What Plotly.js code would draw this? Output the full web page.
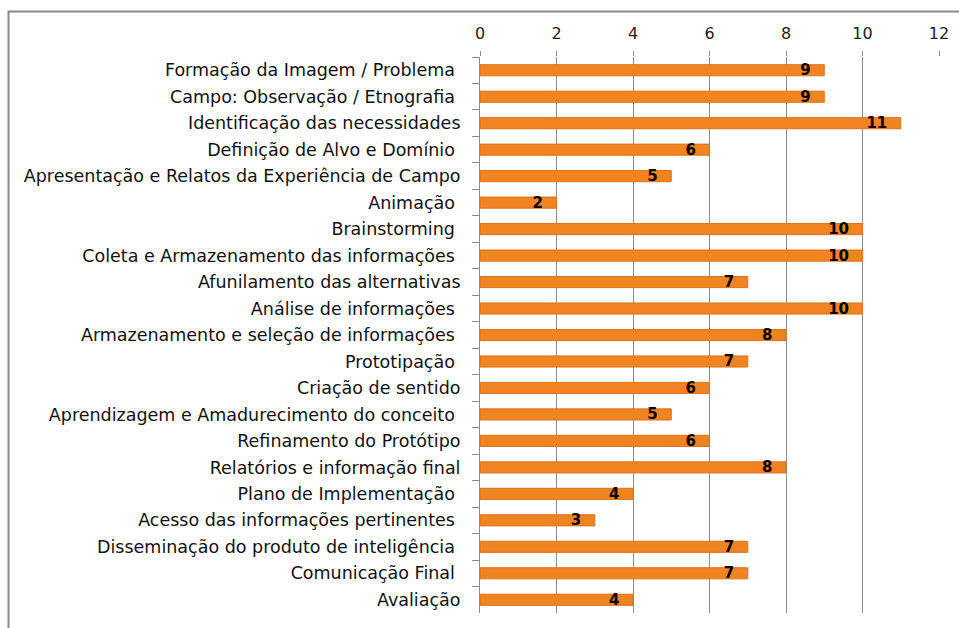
<!DOCTYPE html>
<html>
<head>
<meta charset="utf-8">
<script src="https://cdn.plot.ly/plotly-3.0.1.min.js"></script>
<style>html,body{margin:0;padding:0;background:#fff;}#chart{width:959px;height:628px;}</style>
</head>
<body>
<div id="chart"></div>
<script>
const categories = [
  "Formação da Imagem / Problema ",
  "Campo: Observação / Etnografia ",
  "Identificação das necessidades",
  "Definição de Alvo e Domínio ",
  "Apresentação e Relatos da Experiência de Campo",
  "Animação ",
  "Brainstorming ",
  "Coleta e Armazenamento das informações ",
  "Afunilamento das alternativas",
  "Análise de informações ",
  "Armazenamento e seleção de informações ",
  "Prototipação ",
  "Criação de sentido",
  "Aprendizagem e Amadurecimento do conceito ",
  "Refinamento do Protótipo",
  "Relatórios e informação final",
  "Plano de Implementação ",
  "Acesso das informações pertinentes ",
  "Disseminação do produto de inteligência ",
  "Comunicação Final ",
  "Avaliação"
];
const values = [9, 9, 11, 6, 5, 2, 10, 10, 7, 10, 8, 7, 6, 5, 6, 8, 4, 3, 7, 7, 4];
const tickValues = [0, 2, 4, 6, 8, 10, 12];

const trace = {
  type: 'bar',
  orientation: 'h',
  x: values,
  y: categories,
  width: 0.42,
  marker: {color: '#F08420', line: {color: '#DD7219', width: 1}},
  text: values.map(v => String(v)),
  texttemplate: '%{text}\u00a0\u00a0',
  textposition: 'inside',
  insidetextanchor: 'end',
  constraintext: 'none',
  textangle: 0,
  textfont: {family: 'DejaVu Sans, sans-serif', size: 15, color: '#000000', weight: 'bold'},
  hoverinfo: 'none'
};

const layout = {
  width: 959,
  height: 628,
  margin: {l: 480, r: 20, t: 57, b: 15},
  paper_bgcolor: '#ffffff',
  plot_bgcolor: '#ffffff',
  showlegend: false,
  bargap: 0.58,
  xaxis: {
    side: 'top',
    range: [0, 12],
    tickvals: tickValues,
    ticktext: tickValues.map(String),
    showgrid: true,
    gridcolor: '#8c8c8c',
    gridwidth: 1,
    zeroline: false,
    showline: false,
    ticks: 'outside',
    ticklen: 5,
    tickcolor: '#8c8c8c',
    ticklabelstandoff: 6,
    tickfont: {family: 'DejaVu Sans, sans-serif', size: 16, color: '#222222'},
    fixedrange: true
  },
  yaxis: {
    type: 'category',
    autorange: 'reversed',
    showline: true,
    linecolor: '#8c8c8c',
    linewidth: 1,
    ticks: 'outside',
    tickson: 'boundaries',
    ticklen: 7,
    tickcolor: '#8c8c8c',
    ticklabelstandoff: 15,
    showgrid: false,
    tickfont: {family: 'DejaVu Sans, sans-serif', size: 17.5, color: '#111111'},
    fixedrange: true
  },
  shapes: [{
    type: 'rect', xref: 'paper', yref: 'paper',
    x0: (8.5 - 480) / 459, x1: 2,
    y0: -1, y1: (613 - 11.5) / 556,
    line: {color: '#8a8a8a', width: 2},
    fillcolor: 'rgba(0,0,0,0)',
    layer: 'below'
  }]
};

Plotly.newPlot('chart', [trace], layout, {displayModeBar: false, staticPlot: true});
</script>
</body>
</html>
